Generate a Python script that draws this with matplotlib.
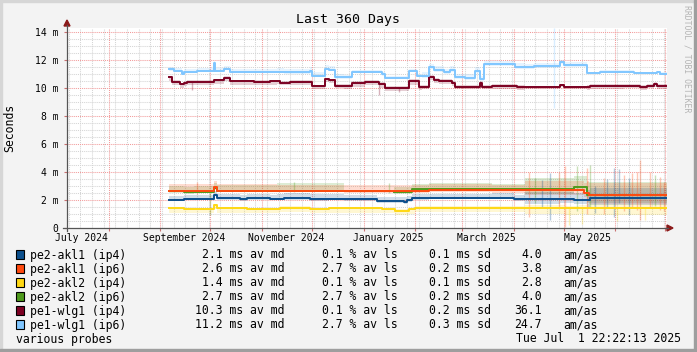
#latencia_multi - grafico estilo smokeping / rrdtool
import pandas as pd
import matplotlib
matplotlib.use("Agg")
import matplotlib.pyplot as plt
from matplotlib.patches import Rectangle, Polygon
from matplotlib.lines import Line2D

MONO = "DejaVu Sans Mono"
W, H = 697, 352

fin = pd.Timestamp("2025-07-01 22:22:13")
inicio = fin - pd.Timedelta(days=360)

#Medianas (escalones) por destino, en ms
fechas_akl1_ip4 = ["2024-09-06", "2024-09-15", "2024-10-03", "2024-10-05", "2024-10-19", "2024-10-23",
                   "2024-11-06", "2024-11-14", "2024-11-30", "2024-12-11", "2025-01-09", "2025-01-25",
                   "2025-01-27", "2025-01-30", "2025-02-09", "2025-03-19", "2025-04-01", "2025-04-29",
                   "2025-05-07", "2025-05-17"]
vals_akl1_ip4 = [2.00, 2.07, 2.36, 2.12, 2.05, 2.12, 2.07, 2.12, 2.05, 2.07, 1.95, 1.88,
                 2.00, 2.12, 2.15, 2.17, 2.05, 2.07, 2.00, 2.17]

fechas_akl1_ip6 = ["2024-09-06", "2024-10-03", "2024-10-05", "2025-01-30", "2025-02-09", "2025-03-19",
                   "2025-05-13", "2025-05-16"]
vals_akl1_ip6 = [2.67, 2.90, 2.67, 2.64, 2.74, 2.68, 2.48, 2.33]

fechas_akl2_ip4 = ["2024-09-06", "2024-09-15", "2024-10-03", "2024-10-05", "2024-10-23", "2024-11-12",
                   "2024-11-30", "2024-12-11", "2025-01-12", "2025-01-20", "2025-01-28", "2025-02-01",
                   "2025-05-02", "2025-05-10"]
vals_akl2_ip4 = [1.40, 1.36, 1.64, 1.40, 1.36, 1.45, 1.36, 1.40, 1.36, 1.24, 1.33, 1.45, 1.40, 1.45]

fechas_akl2_ip6 = ["2024-09-06", "2024-09-15", "2024-09-21", "2024-10-03", "2024-10-05", "2025-01-17",
                   "2025-01-19", "2025-01-30", "2025-02-09", "2025-03-19", "2025-05-07", "2025-05-15"]
vals_akl2_ip6 = [2.62, 2.55, 2.60, 2.85, 2.67, float("nan"), 2.60, 2.76, 2.79, 2.76, 2.95, 2.36]

fechas_wlg1_ip4 = ["2024-09-06", "2024-09-08", "2024-09-13", "2024-09-15", "2024-09-17", "2024-10-03",
                   "2024-10-09", "2024-10-13", "2024-10-27", "2024-11-06", "2024-11-12", "2024-11-18",
                   "2024-12-01", "2024-12-09", "2024-12-11", "2024-12-15", "2024-12-25", "2025-01-02",
                   "2025-01-10", "2025-01-14", "2025-01-28", "2025-02-03", "2025-02-09", "2025-02-12",
                   "2025-02-15", "2025-02-23", "2025-02-25", "2025-03-12", "2025-03-13", "2025-03-19",
                   "2025-04-03", "2025-04-29", "2025-05-01", "2025-05-17", "2025-06-06", "2025-06-16",
                   "2025-06-20", "2025-06-24", "2025-06-26"]
vals_wlg1_ip4 = [10.76, 10.45, 10.26, 10.38, 10.45, 10.55, 10.74, 10.50, 10.45, 10.50, 10.38, 10.45,
                 10.14, 10.64, 10.57, 10.17, 10.33, 10.45, 10.26, 10.02, 10.50, 10.10, 10.76, 10.57,
                 10.50, 10.33, 10.10, 10.33, 10.10, 10.14, 10.05, 10.21, 10.05, 10.12, 10.17, 10.05,
                 10.17, 10.26, 10.14]

fechas_wlg1_ip6 = ["2024-09-06", "2024-09-09", "2024-09-14", "2024-09-15", "2024-09-23", "2024-10-03",
                   "2024-10-04", "2024-10-09", "2024-10-13", "2024-11-14", "2024-11-30", "2024-12-01",
                   "2024-12-09", "2024-12-11", "2024-12-15", "2024-12-25", "2025-01-12", "2025-01-14",
                   "2025-01-28", "2025-02-02", "2025-02-09", "2025-02-12", "2025-02-18", "2025-02-22",
                   "2025-02-25", "2025-03-03", "2025-03-09", "2025-03-12", "2025-03-14", "2025-04-02",
                   "2025-04-13", "2025-04-29", "2025-05-01", "2025-05-15", "2025-05-23", "2025-06-12",
                   "2025-06-26", "2025-06-28"]
vals_wlg1_ip6 = [11.33, 11.20, 10.98, 11.16, 11.20, 11.76, 11.24, 11.36, 11.16, 11.12, 11.25, 10.86,
                 11.36, 11.29, 10.76, 11.16, 10.98, 10.74, 11.24, 10.86, 11.48, 11.29, 11.12, 11.29,
                 10.78, 10.74, 11.24, 10.64, 11.69, 11.52, 11.60, 11.83, 11.64, 11.05, 11.16, 11.05,
                 11.12, 11.00]

#Humo (dispersion) por tramos: cuanto sube / baja respecto a la mediana
cortes_humo = ["2024-09-06", "2024-11-10", "2024-12-20", "2025-02-05", "2025-04-08", "2025-05-15"]
humo_hi_akl1_ip4 = [0.30, 0.35, 0.30, 0.30, 0.50, 0.70]
humo_lo_akl1_ip4 = [0.10, 0.10, 0.15, 0.10, 0.30, 0.50]
humo_hi_akl1_ip6 = [0.45, 0.40, 0.40, 0.40, 0.70, 0.90]
humo_lo_akl1_ip6 = [0.10, 0.10, 0.15, 0.15, 0.30, 0.60]
humo_hi_akl2_ip4 = [0.10, 0.10, 0.10, 0.10, 0.20, 0.25]
humo_lo_akl2_ip4 = [0.30, 0.30, 0.30, 0.30, 0.45, 0.55]
humo_hi_akl2_ip6 = [0.40, 0.55, 0.35, 0.40, 0.80, 0.90]
humo_lo_akl2_ip6 = [0.10, 0.10, 0.15, 0.15, 0.30, 0.60]
humo_hi_wlg1_ip4 = [0.10, 0.10, 0.15, 0.15, 0.10, 0.15]
humo_lo_wlg1_ip4 = [0.25, 0.20, 0.25, 0.20, 0.15, 0.20]
humo_hi_wlg1_ip6 = [0.20, 0.25, 0.15, 0.25, 0.20, 0.12]
humo_lo_wlg1_ip6 = [0.08, 0.10, 0.10, 0.15, 0.15, 0.08]

#Picos sueltos de humo
pico_fechas = ["2024-09-23", "2024-10-01", "2024-11-20", "2025-01-16", "2025-04-10", "2025-04-23",
               "2025-05-02", "2025-05-09", "2025-05-15", "2025-05-17", "2025-05-20", "2025-05-25",
               "2025-05-31", "2025-06-06", "2025-06-09", "2025-06-14", "2025-06-16", "2025-06-22",
               "2025-06-28", "2025-04-25", "2025-01-10", "2025-01-22", "2024-09-20",
               "2025-04-14", "2025-04-18", "2025-04-28", "2025-05-04", "2025-05-12", "2025-06-02",
               "2025-06-19", "2025-06-03", "2025-06-11", "2025-06-25", "2025-05-27", "2025-06-30"]
pico_lo = [2.4, 0.93, 2.6, 2.5, 0.8, 0.57, 0.1, 1.2, 1.0, 1.5, 1.07, 1.0, 0.8, 1.2, 0.9, 1.3, 0.57,
           1.5, 1.3, 8.6, 9.5, 9.7, 9.86,
           1.8, 1.5, 1.4, 0.2, 0.3, 0.5, 0.6, 1.8, 1.5, 1.6, 1.4, 1.2]
pico_hi = [3.3, 2.6, 3.3, 3.2, 4.0, 3.9, 4.4, 4.4, 4.3, 4.5, 3.0, 3.6, 4.3, 3.8, 3.6, 4.0, 4.86,
           4.0, 3.67, 14.3, 10.4, 10.1, 10.45,
           3.6, 3.4, 4.0, 1.5, 1.5, 1.5, 1.5, 4.2, 3.9, 3.8, 3.5, 3.3]
pico_serie = ["akl1_ip6", "akl2_ip6", "akl2_ip6", "akl2_ip6", "akl1_ip6", "akl1_ip4",
              "akl1_ip6", "akl2_ip6", "akl1_ip6", "akl2_ip6", "akl1_ip4", "akl1_ip6",
              "akl1_ip4", "akl1_ip6", "akl1_ip4", "akl1_ip6", "akl1_ip6", "akl1_ip6",
              "akl1_ip6", "wlg1_ip6", "wlg1_ip4", "wlg1_ip4", "wlg1_ip4",
              "akl2_ip6", "akl1_ip4", "akl1_ip6", "akl2_ip4", "akl2_ip4", "akl2_ip4",
              "akl2_ip4", "akl1_ip4", "akl1_ip6", "akl2_ip6", "akl1_ip4", "akl1_ip6"]

#Leyenda
nombres = ["pe2-akl1 (ip4)", "pe2-akl1 (ip6)", "pe2-akl2 (ip4)", "pe2-akl2 (ip6)",
           "pe1-wlg1 (ip4)", "pe1-wlg1 (ip6)"]
claves = ["akl1_ip4", "akl1_ip6", "akl2_ip4", "akl2_ip6", "wlg1_ip4", "wlg1_ip6"]
med_av = [2.1, 2.6, 1.4, 2.7, 10.3, 11.2]
perdida_av = [0.1, 2.7, 0.1, 2.7, 0.1, 2.7]
desv = [0.1, 0.2, 0.1, 0.2, 0.2, 0.3]
am_as = [4.0, 3.8, 2.8, 4.0, 36.1, 24.7]

colores = {"akl1_ip4": "#0c4f8c", "akl1_ip6": "#ff4a0f", "akl2_ip4": "#ffd814",
           "akl2_ip6": "#4e9a1c", "wlg1_ip4": "#7c0022", "wlg1_ip6": "#80c6ff"}

datos = {
    "akl1_ip4": (fechas_akl1_ip4, vals_akl1_ip4, humo_lo_akl1_ip4, humo_hi_akl1_ip4),
    "akl1_ip6": (fechas_akl1_ip6, vals_akl1_ip6, humo_lo_akl1_ip6, humo_hi_akl1_ip6),
    "akl2_ip4": (fechas_akl2_ip4, vals_akl2_ip4, humo_lo_akl2_ip4, humo_hi_akl2_ip4),
    "akl2_ip6": (fechas_akl2_ip6, vals_akl2_ip6, humo_lo_akl2_ip6, humo_hi_akl2_ip6),
    "wlg1_ip4": (fechas_wlg1_ip4, vals_wlg1_ip4, humo_lo_wlg1_ip4, humo_hi_wlg1_ip4),
    "wlg1_ip6": (fechas_wlg1_ip6, vals_wlg1_ip6, humo_lo_wlg1_ip6, humo_hi_wlg1_ip6),
}
orden_dibujo = ["akl2_ip4", "akl2_ip6", "akl1_ip6", "akl1_ip4", "wlg1_ip4", "wlg1_ip6"]


def fx(x):
    return x / W


def fy(y):
    return 1 - y / H


def escalon(fechas, vals):
    s = pd.Series(list(vals) + [vals[-1]], index=pd.to_datetime(list(fechas)).append(pd.DatetimeIndex([fin])))
    return s


fig = plt.figure(figsize=(W / 100, H / 100), dpi=100, facecolor="#f3f3f3")
ax = fig.add_axes([fx(67), fy(228), 600 / W, 200 / H])
ax.set_facecolor("white")
ymax = 200 / 14
ax.set_xlim(inicio, fin)
ax.set_ylim(0, ymax)
for sp in ax.spines.values():
    sp.set_visible(False)

#Rejilla
punteado = (0, (1, 1))
semanas = pd.date_range(inicio.normalize(), fin, freq="W-MON")
meses = pd.date_range("2024-08-01", fin, freq="MS")
ax.vlines(semanas, 0, ymax, colors="#d4d4d4", lw=0.75, linestyles=punteado, zorder=0.5)
ax.hlines([v / 2 for v in range(1, 29) if v % 4 != 0], inicio, fin, colors="#d4d4d4",
          lw=0.75, linestyles=punteado, zorder=0.5)
ax.vlines(meses, 0, ymax, colors="#f29a9a", lw=0.75, linestyles=punteado, zorder=0.6)
ax.hlines(range(2, 15, 2), inicio, fin, colors="#f29a9a", lw=0.75, linestyles=punteado, zorder=0.6)

#Humo
cortes = pd.to_datetime(cortes_humo)
for k in orden_dibujo:
    fechas, vals, lo, hi = datos[k]
    med = escalon(fechas, vals)
    idx = med.index.union(cortes)
    idx = idx[idx >= med.index[0]]
    m = med.reindex(idx, method="ffill")
    s_lo = pd.Series(lo, index=cortes).reindex(idx, method="ffill")
    s_hi = pd.Series(hi, index=cortes).reindex(idx, method="ffill")
    ax.fill_between(idx, m - s_lo, m + s_hi, step="post", color=colores[k], alpha=0.19,
                    lw=0, zorder=1)

ax.vlines(pd.to_datetime(pico_fechas), pico_lo, pico_hi, colors=[colores[k] for k in pico_serie],
          alpha=0.3, lw=1.0, zorder=1.5)

#Medianas
for i, k in enumerate(orden_dibujo):
    fechas, vals, lo, hi = datos[k]
    med = escalon(fechas, vals)
    ax.step(med.index, med.values, where="post", color=colores[k], lw=1.4, zorder=2 + i)

#Ejes y etiquetas
etiquetas_x = ["July 2024", "September 2024", "November 2024", "January 2025", "March 2025", "May 2025"]
pos_x = pd.to_datetime(["2024-07-15 12:00", "2024-09-15 12:00", "2024-11-15 12:00",
                        "2025-01-15 12:00", "2025-03-15 12:00", "2025-05-15 12:00"])
ax.set_xticks(pos_x)
ax.set_xticklabels(etiquetas_x, fontsize=7, family=MONO)
ax.set_xticks(meses, minor=True)
ax.tick_params(axis="x", which="major", length=0, pad=3.8)
ax.tick_params(axis="x", which="minor", length=2.5, width=0.8, color="#c87070")
ax.set_yticks(range(0, 15, 2))
ax.set_yticklabels(["0"] + [f"{v} m" for v in range(2, 15, 2)], fontsize=7, family=MONO)
ax.tick_params(axis="y", which="major", length=2.5, width=0.8, color="#c87070", pad=3.5)

fig.add_artist(Line2D([fx(63), fx(668)], [fy(228), fy(228)], color="#555555", lw=0.9))
fig.add_artist(Line2D([fx(67), fx(67)], [fy(231), fy(25)], color="#555555", lw=0.9))
fig.add_artist(Polygon([(fx(64), fy(26)), (fx(70), fy(26)), (fx(67), fy(20))], closed=True,
                       color="#8b1a1a", transform=fig.transFigure))
fig.add_artist(Polygon([(fx(667), fy(225)), (fx(667), fy(231)), (fx(673), fy(228))], closed=True,
                       color="#8b1a1a", transform=fig.transFigure))

fig.text(fx(348), fy(19), "Last 360 Days", ha="center", va="center", fontsize=9.5, family=MONO)
fig.text(fx(10), fy(128), "Seconds", rotation=90, ha="center", va="center", fontsize=8.3, family=MONO)
fig.text(fx(686.5), fy(59), "RRDTOOL / TOBI OETIKER", rotation=270, ha="center", va="center",
         fontsize=5.9, family=MONO, color="#b4b4b4")

#Leyenda
for i, k in enumerate(claves):
    base = 258.5 + 14 * i
    fig.add_artist(Rectangle((fx(15.5), fy(base + 0.5)), 8 / W, 9 / H, facecolor=colores[k],
                             edgecolor="black", lw=0.8, transform=fig.transFigure))
    fig.text(fx(30), fy(base), nombres[i], va="baseline", fontsize=8.3, family=MONO)
    fig.text(fx(284), fy(base), f"{med_av[i]:.1f} ms av md", ha="right", va="baseline",
             fontsize=8.3, family=MONO)
    fig.text(fx(397.5), fy(base), f"{perdida_av[i]:.1f} % av ls", ha="right", va="baseline",
             fontsize=8.3, family=MONO)
    fig.text(fx(490.5), fy(base), f"{desv[i]:.1f} ms sd", ha="right", va="baseline",
             fontsize=8.3, family=MONO)
    fig.text(fx(542), fy(base), f"{am_as[i]:.1f}", ha="right", va="baseline", fontsize=8.3, family=MONO)
    fig.text(fx(563), fy(base), "am/as", va="baseline", fontsize=8.3, family=MONO)

fig.text(fx(16), fy(342.5), "various probes", va="baseline", fontsize=8.3, family=MONO)
fig.text(fx(680.5), fy(342.5), "Tue Jul  1 22:22:13 2025", ha="right", va="baseline",
         fontsize=8.3, family=MONO)

#Marco 3D
fig.add_artist(Rectangle((0, fy(2)), 1, 2 / H, color="#d6d6d6", transform=fig.transFigure))
fig.add_artist(Rectangle((0, 0), 2 / W, 1, color="#d6d6d6", transform=fig.transFigure))
fig.add_artist(Rectangle((0, 0), 1, 3 / H, color="#9e9e9e", transform=fig.transFigure))
fig.add_artist(Rectangle((fx(694), 0), 3 / W, 1, color="#9e9e9e", transform=fig.transFigure))

fig.savefig("out.png", dpi=100, facecolor=fig.get_facecolor())
